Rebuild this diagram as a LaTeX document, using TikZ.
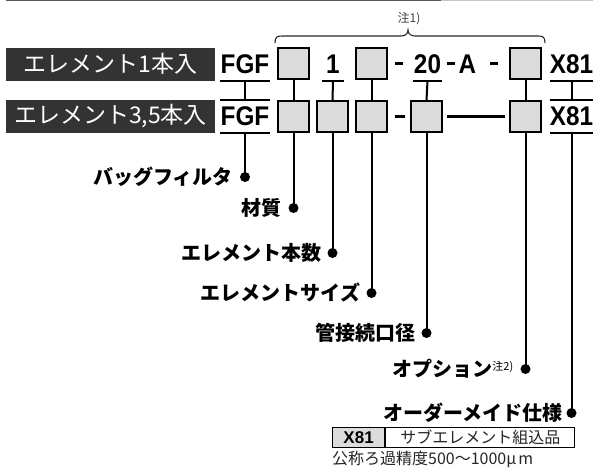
\documentclass[tikz,border=0pt]{standalone}
\usepackage{fontspec}
\usetikzlibrary{calc}
\setmainfont{Liberation Sans}
\newfontfamily\codefont{Liberation Sans}[FakeStretch=0.9]
\newfontfamily\jp{Noto Sans CJK JP}
\definecolor{tagbg}{HTML}{333333}
\definecolor{boxgray}{HTML}{DCDCDC}
\definecolor{topdark}{HTML}{5A5A5A}
\definecolor{toplight}{HTML}{C4C4C4}
\begin{document}
\begin{tikzpicture}[x=1pt,y=-1pt,
  tag/.style={fill=tagbg,text=white,minimum width=209pt,minimum height=33pt,inner sep=0pt,font=\jp\fontsize{23}{23}\selectfont},
  code/.style={inner sep=0pt,minimum height=33pt,font=\codefont\bfseries\fontsize{27}{27}\selectfont},
  hyph/.style={inner sep=0pt},
  codebox/.style={draw=black,line width=2.2pt,fill=boxgray,minimum width=31pt,minimum height=31pt,inner sep=0pt},
  rule/.style={line width=2.2pt},
  conn/.style={line width=2pt},
  dot/.style={circle,fill=black,minimum size=10pt,inner sep=0pt},
  lbl/.style={anchor=east,inner sep=0pt,font=\jp\bfseries\fontsize{20}{20}\selectfont},
  note/.style={inner sep=0pt,text=black!75,font=\jp\fontsize{12}{12}\selectfont}
]
\useasboundingbox (0,0) rectangle (593,469);
% top rule
\draw[topdark,line width=1.5pt] (6,0.6) -- (441,0.6);
\draw[toplight,line width=1.5pt] (441,0.6) -- (593,0.6);

% brace and note
\coordinate (bl) at (275,43);
\coordinate (br) at (545,43);
\draw[line width=1.1pt,black!85] (bl) .. controls (275,37) and (277,36) .. (282,36) -- (401,36)
  .. controls (405,36) and (408,34) .. (408,30) .. controls (408,34) and (411,36) .. (415,36)
  -- (538,36) .. controls (543,36) and (545,37) .. (br);
\node[note] (n1) at (409,19) {注1)};

% row labels
\node[tag] (r1) at (110.5,64) {エレメント1本入};
\node[tag] (r2) at (110.5,116.5) {エレメント3,5本入};

% row 1
\node[code,minimum width=50pt] (f1) at (245,64) {FGF};
\node[codebox] (a1) at (293.5,63.5) {};
\node[code,minimum width=22pt] (n1r) at (333,64) {1};
\node[codebox] (c1) at (371.5,63.5) {};
\node[hyph] (h1) at (399,63.5) {\rule{8pt}{3.5pt}};
\node[code,minimum width=29pt] (t20) at (427.5,64) {20};
\node[hyph] (h2) at (450.5,63.5) {\rule{8pt}{3.5pt}};
\node[code] (aa) at (467.5,64) {A};
\node[hyph] (h3) at (494,63.5) {\rule{8pt}{3.5pt}};
\node[codebox] (e1) at (525.5,63.5) {};
\node[code,minimum width=43pt] (x1) at (571.5,64) {X81};

% row 2
\node[code,minimum width=50pt] (f2) at (245,116.5) {FGF};
\node[codebox] (a2) at (293.5,116.5) {};
\node[codebox] (b2) at (332.5,116.5) {};
\node[codebox] (c2) at (371.5,116.5) {};
\node[hyph] (h4) at (399.5,116.5) {\rule{10pt}{3.5pt}};
\node[codebox] (d2) at (426.5,116.5) {};
\node[codebox] (e2) at (525.5,116.5) {};
\node[code,minimum width=43pt] (x2) at (571.5,116.5) {X81};
\coordinate (lnA) at ($(d2.east)+(4,0)$);
\coordinate (lnB) at ($(e2.west)+(-4,0)$);
\draw[line width=3.2pt] (lnA) -- (lnB);

% under/over rules
\draw[rule] (f1.south west) -- (f1.south east);
\draw[rule] (n1r.south west) -- (n1r.south east);
\draw[rule] (t20.south west) -- (t20.south east);
\draw[rule] (x1.south west) -- (x1.south east);
\draw[rule] (f2.north west) -- (f2.north east);
\draw[rule] (f2.south west) -- (f2.south east);
\draw[rule] (x2.north west) -- (x2.north east);
\draw[rule] (x2.south west) -- (x2.south east);

% links between rows
\draw[conn] (f1.south) -- (f2.north);
\draw[conn] (a1.south) -- (a2.north);
\draw[conn] (n1r.south) -- (b2.north);
\draw[conn] (c1.south) -- (c2.north);
\draw[conn] (t20.south) -- (d2.north);
\draw[conn] (e1.south) -- (e2.north);
\draw[conn] (x1.south) -- (x2.north);

% dots
\node[dot] (p1) at (245,177) {};
\node[dot] (p2) at (293.5,208) {};
\node[dot] (p3) at (332.5,253) {};
\node[dot] (p4) at (371.5,293) {};
\node[dot] (p5) at (426.5,333) {};
\node[dot] (p6) at (525.5,369) {};
\node[dot] (p7) at (571.5,413) {};
\draw[conn] (f2.south) -- (p1.center);
\draw[conn] (a2.south) -- (p2.center);
\draw[conn] (b2.south) -- (p3.center);
\draw[conn] (c2.south) -- (p4.center);
\draw[conn] (d2.south) -- (p5.center);
\draw[conn] (e2.south) -- (p6.center);
\draw[conn] (x2.south) -- (p7.center);

% labels
\node[lbl] (l1) at ($(p1)+(-12,0)$) {バッグフィルタ};
\node[lbl] (l2) at ($(p2)+(-12,0)$) {材質};
\node[lbl] (l3) at ($(p3)+(-11,0)$) {エレメント本数};
\node[lbl] (l4) at ($(p4)+(-11,0)$) {エレメントサイズ};
\node[lbl] (l5) at ($(p5)+(-11,0)$) {管接続口径};
\node[lbl] (l6) at ($(p6)+(-12,0)$) {オプション\raisebox{6pt}{\mdseries\fontsize{11}{11}\selectfont 注2)}};
\node[lbl] (l7) at ($(p7)+(-9,0)$) {オーダーメイド仕様};

% table
\node[draw=black,line width=1.2pt,fill=boxgray,minimum width=52pt,minimum height=20pt,inner sep=0pt,anchor=north west,font=\bfseries\fontsize{17}{17}\selectfont] (t1) at (332,427) {X81};
\node[draw=black,line width=1.2pt,minimum width=189pt,minimum height=20pt,inner sep=0pt,anchor=west,font=\jp\fontsize{16}{16}\selectfont,text=black!85] (t2) at (t1.east) {サブエレメント組込品};
\node[anchor=north west,inner sep=0pt,font=\jp\fontsize{16}{16}\selectfont,text=black!85] (t3) at ($(t1.south west)+(0,3)$) {公称ろ過精度500〜1000μ\hspace{2pt}m};
\end{tikzpicture}
\end{document}
